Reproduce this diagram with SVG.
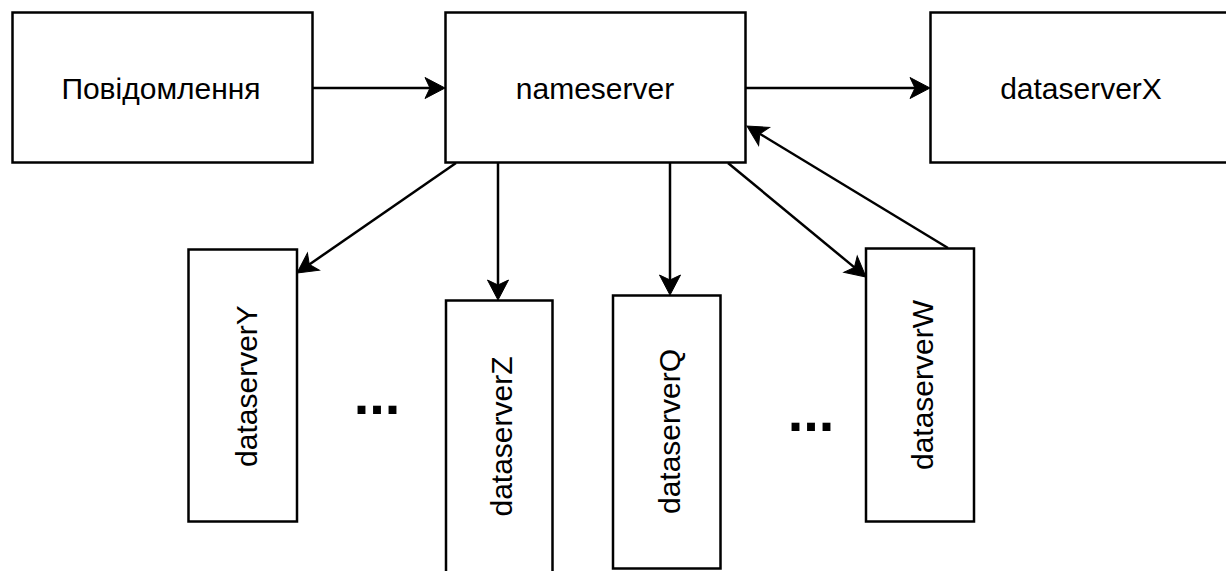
<svg xmlns="http://www.w3.org/2000/svg" width="1226" height="571" viewBox="0 0 1226 571">
  <style>
    .box { fill: #ffffff; stroke: #000000; stroke-width: 2.5; }
    .lbl { font-family: "Liberation Sans", Arial, sans-serif; font-size: 30px; fill: #000000; text-anchor: middle; }
    .dots { font-family: "Liberation Sans", Arial, sans-serif; font-size: 56px; font-weight: bold; fill: #000000; text-anchor: middle; }
    .edge { fill: none; stroke: #000000; stroke-width: 2.5; marker-end: url(#arrow); }
  </style>
  <defs>
    <!-- classic notched arrowhead, tip at x=20, notch at x=5 -->
    <marker id="arrow" markerUnits="userSpaceOnUse" markerWidth="24" markerHeight="24" refX="5" refY="11" orient="auto" viewBox="-1 -1 24 24" overflow="visible">
      <path d="M20,11 L0,0.5 L5,11 L0,21.5 Z" fill="#000000" stroke="#000000" stroke-width="1" stroke-linejoin="miter"/>
    </marker>
  </defs>

  <rect width="1226" height="571" fill="#ffffff"/>

  <g id="connectors">
    <line class="edge" x1="313" y1="88" x2="430" y2="88"/>
    <line class="edge" x1="746" y1="88" x2="915" y2="88"/>
    <line class="edge" x1="456" y1="163" x2="309.3" y2="264.5"/>
    <line class="edge" x1="498" y1="163" x2="498" y2="285"/>
    <line class="edge" x1="670" y1="163" x2="670" y2="280"/>
    <line class="edge" x1="728" y1="163" x2="854.4" y2="267.4"/>
    <line class="edge" x1="948" y1="248" x2="759.8" y2="133.8"/>
  </g>

  <g id="povidomlennia">
    <rect class="box" x="12.5" y="12.5" width="300" height="150"/>
    <text class="lbl" x="161" y="98.5">Повідомлення</text>
  </g>

  <g id="nameserver">
    <rect class="box" x="445.5" y="12.5" width="300" height="150"/>
    <text class="lbl" x="595" y="98.5">nameserver</text>
  </g>

  <g id="dataserverX">
    <rect class="box" x="930.5" y="12.5" width="300" height="150"/>
    <text class="lbl" x="1081" y="98.5">dataserverX</text>
  </g>

  <g id="dataserverY">
    <rect class="box" x="188.5" y="249.5" width="108.5" height="272"/>
    <text class="lbl" transform="translate(257,386) rotate(-90)">dataserverY</text>
  </g>

  <g id="dataserverZ">
    <rect class="box" x="446" y="300.5" width="106.5" height="285"/>
    <text class="lbl" transform="translate(511.5,436.5) rotate(-90)">dataserverZ</text>
  </g>

  <g id="dataserverQ">
    <rect class="box" x="613" y="295.5" width="107.5" height="273"/>
    <text class="lbl" transform="translate(680,431.5) rotate(-90)">dataserverQ</text>
  </g>

  <g id="dataserverW">
    <rect class="box" x="866" y="248.5" width="108" height="273"/>
    <text class="lbl" transform="translate(933,385) rotate(-90)">dataserverW</text>
  </g>

  <g id="ellipsis-left">
    <text class="dots" x="377" y="413.5">...</text>
  </g>
  <g id="ellipsis-right">
    <text class="dots" x="811" y="430.5">...</text>
  </g>
</svg>
